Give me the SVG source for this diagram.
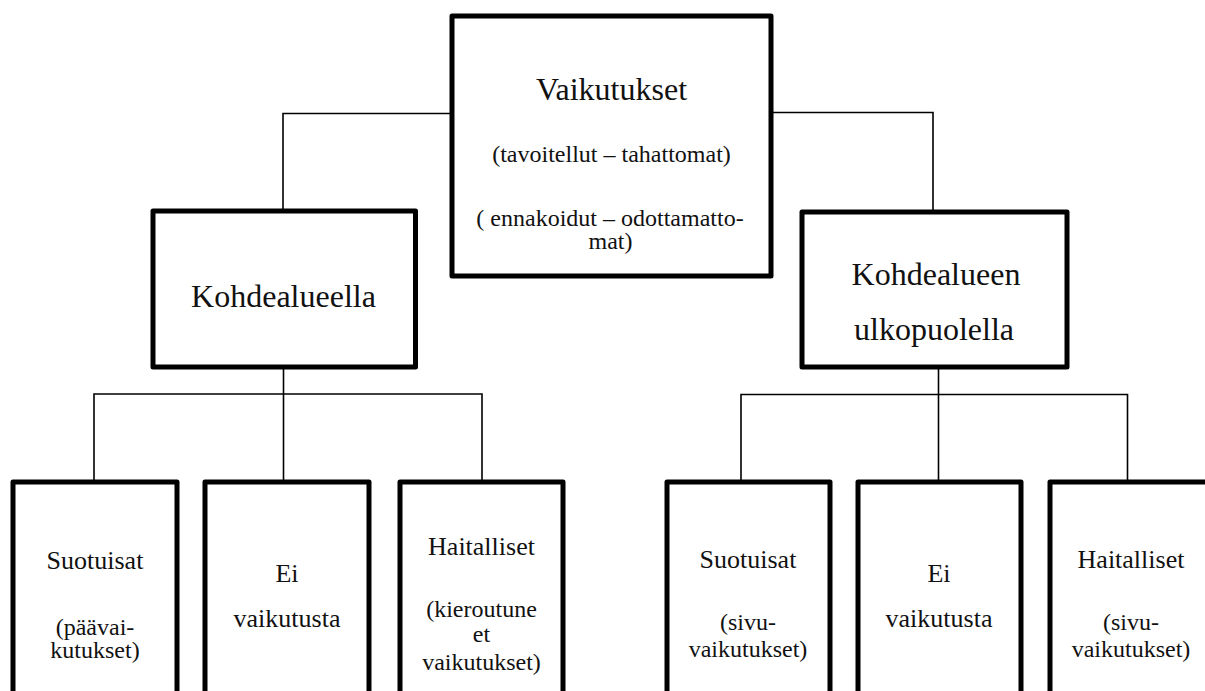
<svg xmlns="http://www.w3.org/2000/svg" width="1205" height="691" viewBox="0 0 1205 691" font-family="'Liberation Serif', 'DejaVu Serif', 'Noto Serif', serif">
  <style>
    .box { fill: #ffffff; stroke: #000000; stroke-width: 5; stroke-linejoin: round; }
    .link { fill: none; stroke: #000000; stroke-width: 1.6; }
    text { font-family: 'Liberation Serif', 'DejaVu Serif', 'Noto Serif', serif; fill: #111111; text-anchor: middle; }
    .big { font-size: 32px; }
    .mid { font-size: 26px; }
    .small { font-size: 24px; }
  </style>
  <rect width="1205" height="691" fill="#ffffff"/>

  <!-- connectors -->
  <g id="connectors">
    <polyline class="link" points="452,113.5 283,113.5 283,211"/>
    <polyline class="link" points="771,112.5 933,112.5 933,212"/>
    <line class="link" x1="283.5" y1="367" x2="283.5" y2="482"/>
    <polyline class="link" points="94,482 94,394 482,394 482,482"/>
    <line class="link" x1="938.5" y1="367" x2="938.5" y2="482"/>
    <polyline class="link" points="741,482 741,394.5 1127.5,394.5 1127.5,482"/>
  </g>

  <!-- top node -->
  <g id="node-vaikutukset">
    <rect class="box" x="452" y="16" width="319" height="260"/>
    <text class="big" x="611.5" y="100">Vaikutukset</text>
    <text class="small" x="611.5" y="162">(tavoitellut – tahattomat)</text>
    <text class="small" x="610" y="226">( ennakoidut – odottamatto-</text>
    <text class="small" x="610.5" y="249">mat)</text>
  </g>

  <!-- second level -->
  <g id="node-kohdealueella">
    <rect class="box" x="153" y="211" width="262.5" height="156"/>
    <text class="big" x="283.5" y="307">Kohdealueella</text>
  </g>
  <g id="node-ulkopuolella">
    <rect class="box" x="802" y="212" width="265" height="155"/>
    <text class="big" x="936" y="285">Kohdealueen</text>
    <text class="big" x="934" y="340">ulkopuolella</text>
  </g>

  <!-- third level, left branch -->
  <g id="node-suotuisat-1">
    <rect class="box" x="13" y="482" width="164" height="230"/>
    <text class="mid" x="95" y="569">Suotuisat</text>
    <text class="small" x="95" y="635">(päävai-</text>
    <text class="small" x="95" y="658">kutukset)</text>
  </g>
  <g id="node-ei-1">
    <rect class="box" x="205" y="482" width="164" height="230"/>
    <text class="mid" x="287" y="582">Ei</text>
    <text class="mid" x="287" y="627">vaikutusta</text>
  </g>
  <g id="node-haitalliset-1">
    <rect class="box" x="400" y="482" width="163" height="230"/>
    <text class="mid" x="481.5" y="555">Haitalliset</text>
    <text class="small" x="481.5" y="617">(kieroutune</text>
    <text class="small" x="481.5" y="642">et</text>
    <text class="small" x="481.5" y="670">vaikutukset)</text>
  </g>

  <!-- third level, right branch -->
  <g id="node-suotuisat-2">
    <rect class="box" x="667" y="482" width="163" height="230"/>
    <text class="mid" x="748" y="568">Suotuisat</text>
    <text class="small" x="748" y="630">(sivu-</text>
    <text class="small" x="748" y="657">vaikutukset)</text>
  </g>
  <g id="node-ei-2">
    <rect class="box" x="858" y="482" width="163" height="230"/>
    <text class="mid" x="939" y="582">Ei</text>
    <text class="mid" x="939" y="627">vaikutusta</text>
  </g>
  <g id="node-haitalliset-2">
    <rect class="box" x="1050" y="482" width="163" height="230"/>
    <text class="mid" x="1131" y="568">Haitalliset</text>
    <text class="small" x="1131" y="630">(sivu-</text>
    <text class="small" x="1131" y="657">vaikutukset)</text>
  </g>
</svg>
